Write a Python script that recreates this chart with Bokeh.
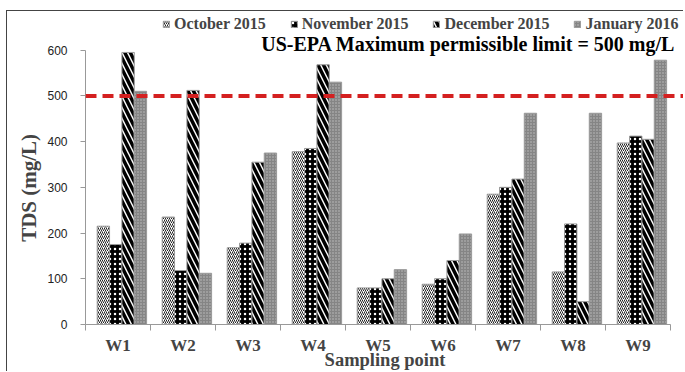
from bokeh.plotting import figure
from bokeh.models import (ColumnDataSource, FixedTicker, Span, Label, Legend, LegendItem)
from bokeh.transform import dodge
from bokeh.embed import file_html
from bokeh.resources import INLINE

# ---- data ----
sites = ["W1", "W2", "W3", "W4", "W5", "W6", "W7", "W8", "W9"]
october_2015 = [215, 235, 168, 378, 80, 88, 285, 115, 397]
november_2015 = [175, 118, 178, 385, 80, 100, 300, 220, 412]
december_2015 = [595, 512, 355, 568, 100, 140, 318, 50, 405]
january_2016 = [510, 112, 375, 530, 120, 198, 462, 462, 578]
series_names = ["October 2015", "November 2015", "December 2015", "January 2016"]
y_ticks = [0, 100, 200, 300, 400, 500, 600]
limit = 500

xpos = list(range(1, len(sites) + 1))
src = ColumnDataSource(dict(x=xpos, oct=october_2015, nov=november_2015,
                            dec=december_2015, jan=january_2016))

W, H = 677, 361
p = figure(width=W, height=H, output_backend="svg", toolbar_location=None,
           x_range=(0.5, 9.715), y_range=(0, 678),
           min_border_left=78, min_border_right=0, min_border_top=3,
           min_border_bottom=47)
p.styles = {"border-left": "1px solid #444", "border-top": "1px solid #444",
            "margin-left": "6px", "margin-top": "10px"}
p.xgrid.visible = False
p.ygrid.visible = False
p.outline_line_color = None
p.background_fill_color = "white"

serif = "Liberation Serif"

bw = 0.19
offs = [-0.225, -0.035, 0.155, 0.345]
styles = [
    dict(fill_color="white", hatch_pattern="right_diagonal_line", hatch_color="#222",
         hatch_weight=1, hatch_scale=4),
    dict(fill_color="black", hatch_pattern="dot", hatch_color="white",
         hatch_weight=0.8, hatch_scale=5),
    dict(fill_color="white", hatch_pattern="left_diagonal_line", hatch_color="black",
         hatch_weight=3.5, hatch_scale=11),
    dict(fill_color="#858585", hatch_pattern="dot", hatch_color="#c0c0c0",
         hatch_weight=1, hatch_scale=3),
]
cols = ["oct", "nov", "dec", "jan"]
renderers = []
for c, o, st in zip(cols, offs, styles):
    r = p.vbar(x=dodge("x", o, range=p.x_range), top=c, width=bw, source=src,
               line_color="#9a9a9a", line_width=1, **st)
    renderers.append(r)

# limit line
p.add_layout(Span(location=limit, dimension="width", line_color="#d42020",
                  line_width=4, line_dash="11 6"))

# annotation
p.add_layout(Label(x=9.654, y=614, text="US-EPA  Maximum permissible limit = 500 mg/L",
                   text_font=serif, text_font_style="bold", text_font_size="20px",
                   text_align="right", text_baseline="middle", text_color="black"))

# legend
legend = Legend(items=[LegendItem(label=n, renderers=[r]) for n, r in zip(series_names, renderers)],
                orientation="horizontal", location=(77, 291),
                label_text_font=serif, label_text_font_style="bold",
                label_text_font_size="16px", glyph_width=8, glyph_height=8,
                label_standoff=4, spacing=24, padding=0, margin=0,
                border_line_color=None, background_fill_alpha=0,
                label_height=14)
p.add_layout(legend)

# y axis
ya = p.yaxis[0]
ya.ticker = FixedTicker(ticks=y_ticks)
ya.bounds = (0, 600)
# trailing no-break spaces centre the title on the 0-600 span instead of the frame
ya.axis_label = "TDS (mg/L)" + "\u00a0" * 7
ya.axis_label_text_font = serif
ya.axis_label_text_font_style = "bold"
ya.axis_label_text_font_size = "21px"
ya.axis_label_standoff = 3
ya.major_label_text_font = "Liberation Sans"
ya.major_label_text_font_size = "12px"
ya.major_label_text_color = "#222"
ya.major_label_standoff = 13
ya.axis_line_color = "#999"
ya.major_tick_line_color = "#999"
ya.major_tick_out = 5
ya.major_tick_in = 0
ya.minor_tick_line_color = None

# x axis
xa = p.xaxis[0]
xa.ticker = FixedTicker(ticks=xpos, minor_ticks=[i + 0.5 for i in range(0, len(sites) + 1)])
xa.major_label_overrides = {i: s for i, s in zip(xpos, sites)}
xa.bounds = (0.5, 9.5)
xa.axis_label = "Sampling point"
xa.axis_label_text_font = serif
xa.axis_label_text_font_style = "bold"
xa.axis_label_text_font_size = "18.5px"
xa.axis_label_standoff = -8
xa.major_label_text_font = serif
xa.major_label_text_font_style = "bold"
xa.major_label_text_font_size = "17px"
xa.major_label_standoff = 5
xa.axis_line_color = "#999"
xa.major_tick_line_color = None
xa.major_tick_out = 0
xa.major_tick_in = 0
xa.minor_tick_line_color = "#999"
xa.minor_tick_out = 6
xa.minor_tick_in = 0

open("out.html", "w").write(file_html(p, INLINE))
